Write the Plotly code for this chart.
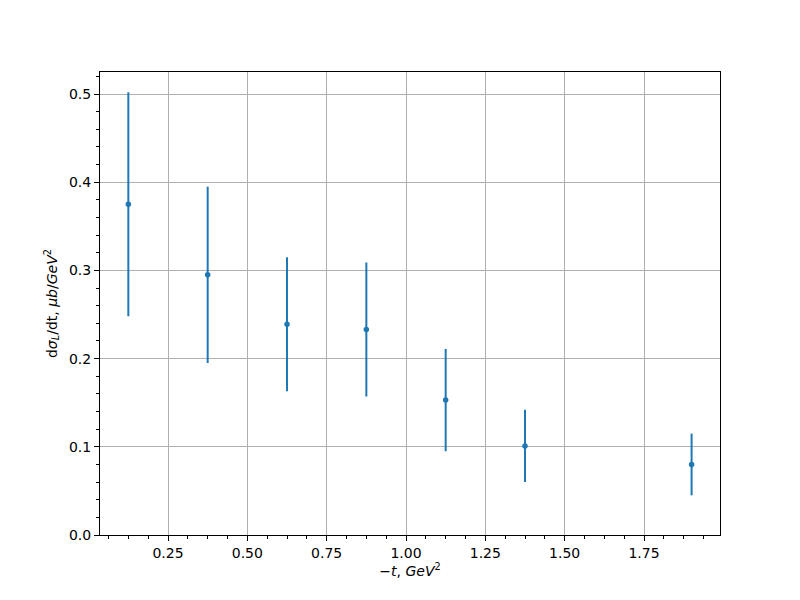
import plotly.graph_objects as go

t_vals = [0.125, 0.375, 0.625, 0.875, 1.125, 1.375, 1.9]
dsigma = [0.375, 0.295, 0.239, 0.233, 0.153, 0.101, 0.080]
err = [0.127, 0.100, 0.076, 0.076, 0.058, 0.041, 0.035]

blue = "#1f77b4"
fig = go.Figure(go.Scatter(
    x=t_vals, y=dsigma, mode="markers",
    marker=dict(color=blue, size=5.5),
    error_y=dict(type="data", array=err, visible=True, color=blue, thickness=2, width=0),
))

font = dict(family="DejaVu Sans", size=14, color="black")
axis_common = dict(
    showline=True, linecolor="black", linewidth=1, mirror=True,
    ticks="outside", ticklen=5, tickwidth=1, tickcolor="black",
    showgrid=True, gridcolor="#b0b0b0", gridwidth=1, zeroline=False,
    tickfont=font,
)
fig.update_layout(
    width=800, height=600,
    margin=dict(l=92, r=88, t=64, b=73),
    plot_bgcolor="white", paper_bgcolor="white",
    font=font, showlegend=False,
    xaxis=dict(range=[0.0357, 1.9895], tick0=0.25, dtick=0.25, tickformat=".2f",
               title=dict(text="−<i>t</i>, <i>GeV</i><sup>2</sup>", font=font, standoff=6),
               minor=dict(ticks="outside", ticklen=3, tick0=0, dtick=0.0625, tickcolor="black", showgrid=False),
               **axis_common),
    yaxis=dict(range=[0, 0.525], tick0=0, dtick=0.1, tickformat=".1f",
               title=dict(text="d<i>σ</i><sub><i>L</i></sub>/dt, <i>μb</i>/<i>GeV</i><sup>2</sup>", font=font, standoff=8),
               minor=dict(ticks="outside", ticklen=3, tick0=0, dtick=0.02, tickcolor="black", showgrid=False),
               **axis_common),
)
fig.write_html("out.html")
